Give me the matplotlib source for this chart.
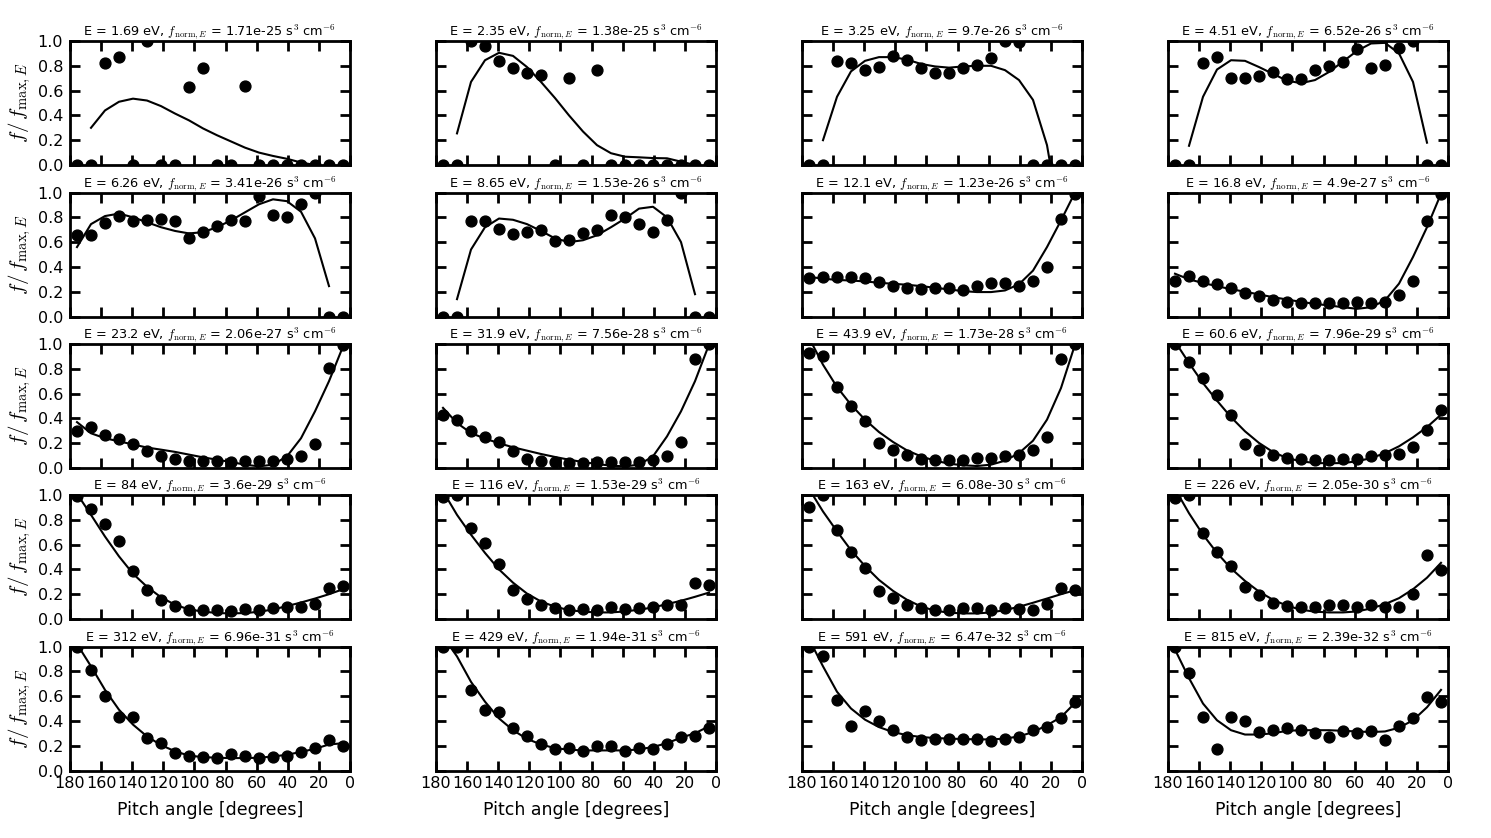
import numpy as np
import matplotlib
matplotlib.use("Agg")
import matplotlib.pyplot as plt

plt.rcParams['mathtext.fontset'] = 'cm'
plt.rcParams['font.family'] = ['DejaVu Sans']

# pitch-angle bin centres [degrees]
pitch = [175.5, 166.5, 157.5, 148.5, 139.5, 130.5, 121.5, 112.5, 103.5, 94.5,
         85.5, 76.5, 67.5, 58.5, 49.5, 40.5, 31.5, 22.5, 13.5, 4.5]

energies = ["1.69", "2.35", "3.25", "4.51",
            "6.26", "8.65", "12.1", "16.8",
            "23.2", "31.9", "43.9", "60.6",
            "84", "116", "163", "226",
            "312", "429", "591", "815"]
fnorm = ["1.71e-25", "1.38e-25", "9.7e-26", "6.52e-26",
         "3.41e-26", "1.53e-26", "1.23e-26", "4.9e-27",
         "2.06e-27", "7.56e-28", "1.73e-28", "7.96e-29",
         "3.6e-29", "1.53e-29", "6.08e-30", "2.05e-30",
         "6.96e-31", "1.94e-31", "6.47e-32", "2.39e-32"]

N = None
# measured f/f_max (points) and fitted curve (line) per energy
pts_1_69 = [0, 0, 0.825, 0.87, 0, 1.0, 0, 0, 0.63, 0.785, 0, 0, 0.64, 0, 0, 0, 0, 0, 0, 0]
fit_1_69 = [N, 0.30, 0.44, 0.51, 0.535, 0.52, 0.475, 0.415, 0.36, 0.295, 0.24, 0.19, 0.14, 0.10, 0.073, 0.05, 0.02, 0.0, N, N]
pts_2_35 = [0, 0, 1.0, 0.96, 0.835, 0.78, 0.74, 0.725, 0, 0.70, 0, 0.77, 0, 0, 0, 0, 0, 0, 0, 0]
fit_2_35 = [N, 0.255, 0.67, 0.845, 0.905, 0.88, 0.79, 0.67, 0.54, 0.40, 0.27, 0.16, 0.095, 0.067, 0.062, 0.056, 0.054, 0.027, 0.0, N]
pts_3_25 = [0, 0, 0.835, 0.82, 0.765, 0.79, 0.875, 0.85, 0.785, 0.74, 0.745, 0.78, 0.805, 0.865, 1.0, 0.995, 0, 0, 0, 0]
fit_3_25 = [N, 0.20, 0.55, 0.755, 0.84, 0.87, 0.87, 0.85, 0.815, 0.795, 0.785, 0.795, 0.80, 0.80, 0.765, 0.685, 0.525, 0.16, -0.5, N]
pts_4_51 = [0, 0, 0.82, 0.87, 0.705, 0.705, 0.72, 0.75, 0.695, 0.695, 0.765, 0.80, 0.83, 0.935, 0.78, 0.81, 0.94, 1.0, 0, 0]
fit_4_51 = [N, 0.155, 0.55, 0.77, 0.845, 0.84, 0.79, 0.735, 0.68, 0.66, 0.685, 0.75, 0.835, 0.92, 0.98, 0.985, 0.90, 0.67, 0.18, N]

pts_6_26 = [0.66, 0.66, 0.755, 0.81, 0.77, 0.78, 0.79, 0.77, 0.635, 0.68, 0.73, 0.775, 0.77, 0.97, 0.82, 0.80, 0.905, 1.0, 0, 0]
fit_6_26 = [0.56, 0.745, 0.81, 0.83, 0.80, 0.76, 0.72, 0.69, 0.67, 0.68, 0.72, 0.775, 0.84, 0.905, 0.945, 0.93, 0.845, 0.63, 0.245, N]
pts_8_65 = [0, 0, 0.77, 0.77, 0.705, 0.665, 0.68, 0.70, 0.61, 0.62, 0.675, 0.695, 0.815, 0.80, 0.75, 0.68, 0.78, 1.0, 0, 0]
fit_8_65 = [N, 0.14, 0.54, 0.72, 0.79, 0.78, 0.745, 0.69, 0.63, 0.60, 0.615, 0.655, 0.72, 0.79, 0.87, 0.885, 0.80, 0.60, 0.18, N]
pts_12_1 = [0.31, 0.32, 0.32, 0.32, 0.31, 0.28, 0.245, 0.23, 0.225, 0.23, 0.23, 0.215, 0.245, 0.27, 0.27, 0.245, 0.285, 0.40, 0.79, 0.99]
fit_12_1 = [0.32, 0.305, 0.295, 0.29, 0.283, 0.272, 0.264, 0.256, 0.245, 0.232, 0.218, 0.205, 0.197, 0.197, 0.21, 0.26, 0.37, 0.56, 0.775, 1.0]
pts_16_8 = [0.29, 0.33, 0.285, 0.26, 0.23, 0.19, 0.165, 0.135, 0.115, 0.105, 0.11, 0.105, 0.11, 0.115, 0.11, 0.12, 0.17, 0.29, 0.77, 0.985]
fit_16_8 = [0.345, 0.30, 0.27, 0.245, 0.22, 0.20, 0.178, 0.156, 0.137, 0.118, 0.102, 0.089, 0.075, 0.062, 0.075, 0.13, 0.265, 0.48, 0.72, 0.99]

pts_23_2 = [0.295, 0.33, 0.265, 0.235, 0.195, 0.135, 0.095, 0.073, 0.054, 0.054, 0.054, 0.048, 0.054, 0.06, 0.06, 0.073, 0.10, 0.195, 0.81, 0.995]
fit_23_2 = [0.37, 0.28, 0.24, 0.215, 0.19, 0.165, 0.148, 0.13, 0.108, 0.086, 0.067, 0.048, 0.027, 0.013, 0.027, 0.094, 0.24, 0.457, 0.70, 0.98]
pts_31_9 = [0.43, 0.39, 0.295, 0.247, 0.21, 0.134, 0.073, 0.06, 0.046, 0.04, 0.04, 0.046, 0.046, 0.048, 0.048, 0.062, 0.094, 0.21, 0.88, 1.0]
fit_31_9 = [0.485, 0.363, 0.282, 0.237, 0.20, 0.167, 0.14, 0.113, 0.089, 0.067, 0.048, 0.032, 0.019, 0.013, 0.027, 0.094, 0.255, 0.457, 0.70, 0.995]
pts_43_9 = [0.927, 0.90, 0.653, 0.503, 0.38, 0.20, 0.142, 0.102, 0.075, 0.067, 0.067, 0.067, 0.08, 0.08, 0.094, 0.108, 0.142, 0.247, 0.88, 1.0]
fit_43_9 = [1.05, 0.833, 0.653, 0.51, 0.39, 0.29, 0.21, 0.142, 0.094, 0.059, 0.035, 0.022, 0.016, 0.027, 0.059, 0.12, 0.22, 0.39, 0.645, 0.995]
pts_60_6 = [1.0, 0.855, 0.726, 0.59, 0.43, 0.196, 0.142, 0.102, 0.08, 0.075, 0.062, 0.067, 0.075, 0.075, 0.094, 0.108, 0.113, 0.169, 0.304, 0.47]
fit_60_6 = [1.02, 0.847, 0.685, 0.543, 0.41, 0.296, 0.202, 0.129, 0.08, 0.054, 0.04, 0.038, 0.04, 0.054, 0.08, 0.12, 0.175, 0.247, 0.33, 0.43]

pts_84 = [0.995, 0.885, 0.77, 0.63, 0.385, 0.23, 0.15, 0.105, 0.075, 0.075, 0.075, 0.065, 0.08, 0.075, 0.09, 0.095, 0.10, 0.125, 0.25, 0.27]
fit_84 = [1.01, 0.84, 0.665, 0.505, 0.365, 0.26, 0.175, 0.115, 0.077, 0.06, 0.048, 0.045, 0.048, 0.058, 0.077, 0.104, 0.133, 0.165, 0.20, 0.24]
pts_116 = [0.98, 1.0, 0.733, 0.613, 0.44, 0.235, 0.16, 0.115, 0.088, 0.075, 0.08, 0.075, 0.093, 0.08, 0.088, 0.099, 0.115, 0.112, 0.288, 0.272]
fit_116 = [1.03, 0.84, 0.68, 0.533, 0.40, 0.293, 0.205, 0.141, 0.099, 0.072, 0.059, 0.053, 0.053, 0.061, 0.075, 0.093, 0.12, 0.147, 0.179, 0.213]
pts_163 = [0.90, 1.0, 0.715, 0.541, 0.413, 0.227, 0.173, 0.115, 0.085, 0.075, 0.075, 0.085, 0.088, 0.075, 0.088, 0.08, 0.075, 0.12, 0.248, 0.235]
fit_163 = [1.05, 0.867, 0.707, 0.555, 0.427, 0.315, 0.227, 0.155, 0.101, 0.067, 0.051, 0.045, 0.045, 0.053, 0.072, 0.099, 0.131, 0.165, 0.20, 0.232]
pts_226 = [0.973, 1.0, 0.693, 0.539, 0.427, 0.259, 0.192, 0.133, 0.101, 0.093, 0.093, 0.112, 0.112, 0.093, 0.112, 0.099, 0.099, 0.205, 0.515, 0.395]
fit_226 = [1.05, 0.853, 0.68, 0.533, 0.408, 0.307, 0.221, 0.155, 0.107, 0.075, 0.059, 0.053, 0.053, 0.061, 0.085, 0.12, 0.168, 0.24, 0.333, 0.453]

pts_312 = [1.0, 0.81, 0.60, 0.43, 0.43, 0.265, 0.225, 0.145, 0.115, 0.11, 0.10, 0.135, 0.12, 0.10, 0.11, 0.12, 0.15, 0.18, 0.25, 0.20]
fit_312 = [1.02, 0.84, 0.65, 0.49, 0.37, 0.275, 0.205, 0.155, 0.12, 0.108, 0.103, 0.10, 0.10, 0.103, 0.113, 0.127, 0.15, 0.175, 0.21, 0.22]
pts_429 = [1.0, 1.0, 0.65, 0.49, 0.475, 0.345, 0.28, 0.215, 0.175, 0.18, 0.16, 0.195, 0.195, 0.16, 0.185, 0.17, 0.215, 0.27, 0.28, 0.345]
fit_429 = [1.08, 0.92, 0.715, 0.555, 0.42, 0.325, 0.255, 0.21, 0.18, 0.168, 0.162, 0.162, 0.162, 0.162, 0.17, 0.19, 0.22, 0.265, 0.30, 0.357]
pts_591 = [1.0, 0.92, 0.565, 0.36, 0.48, 0.40, 0.325, 0.27, 0.245, 0.255, 0.255, 0.255, 0.255, 0.235, 0.255, 0.27, 0.325, 0.35, 0.425, 0.555]
fit_591 = [1.06, 0.84, 0.635, 0.50, 0.41, 0.35, 0.31, 0.285, 0.27, 0.262, 0.257, 0.254, 0.251, 0.251, 0.257, 0.275, 0.31, 0.365, 0.43, 0.545]
pts_815 = [1.0, 0.79, 0.43, 0.17, 0.435, 0.40, 0.31, 0.325, 0.345, 0.325, 0.30, 0.27, 0.315, 0.30, 0.32, 0.25, 0.355, 0.42, 0.595, 0.555]
fit_815 = [0.975, 0.745, 0.54, 0.405, 0.325, 0.29, 0.29, 0.30, 0.32, 0.325, 0.325, 0.325, 0.32, 0.315, 0.31, 0.315, 0.345, 0.405, 0.51, 0.65]

points = [pts_1_69, pts_2_35, pts_3_25, pts_4_51,
          pts_6_26, pts_8_65, pts_12_1, pts_16_8,
          pts_23_2, pts_31_9, pts_43_9, pts_60_6,
          pts_84, pts_116, pts_163, pts_226,
          pts_312, pts_429, pts_591, pts_815]
fits = [fit_1_69, fit_2_35, fit_3_25, fit_4_51,
        fit_6_26, fit_8_65, fit_12_1, fit_16_8,
        fit_23_2, fit_31_9, fit_43_9, fit_60_6,
        fit_84, fit_116, fit_163, fit_226,
        fit_312, fit_429, fit_591, fit_815]

W, H = 1491, 838
fig = plt.figure(figsize=(W / 100, H / 100), dpi=100)

col_left = [70, 436, 802, 1168]
row_top = [41, 192.5, 344, 495, 646.5]
aw, ah = 280, 124

x = np.array(pitch, dtype=float)
for i in range(20):
    r, c = divmod(i, 4)
    ax = fig.add_axes([col_left[c] / W, (H - row_top[r] - ah) / H, aw / W, ah / H])
    y_pts = np.array(points[i], dtype=float)
    y_fit = np.array([np.nan if v is None else v for v in fits[i]], dtype=float)
    ax.plot(x, y_fit, color='black', lw=1.5)
    ax.plot(x, y_pts, 'o', color='black', ms=7.8)
    ax.set_xlim(180, 0)
    ax.set_ylim(0, 1.0)
    ax.set_xticks(np.arange(180, -1, -20))
    ax.set_yticks([0.0, 0.2, 0.4, 0.6, 0.8, 1.0])
    ax.tick_params(direction='in', length=7, width=2, top=True, right=True,
                   labelsize=11.5)
    ax.tick_params(axis='x', pad=4)
    ax.tick_params(axis='y', pad=5)
    for s in ax.spines.values():
        s.set_linewidth(2)
    if c != 0:
        ax.set_yticklabels([])
    else:
        ax.set_ylabel(r'$f/\,f_{\mathrm{max},E}$', fontsize=15, labelpad=3)
    if r != 4:
        ax.set_xticklabels([])
    else:
        ax.set_xlabel('Pitch angle [degrees]', fontsize=12.5, labelpad=7)
    ax.set_title('E = %s eV, $f_{\\mathrm{norm},E}$ = %s s$^3$ cm$^{-6}$' % (energies[i], fnorm[i]),
                 fontsize=9.3, pad=4)

fig.savefig('out.png', dpi=100)
